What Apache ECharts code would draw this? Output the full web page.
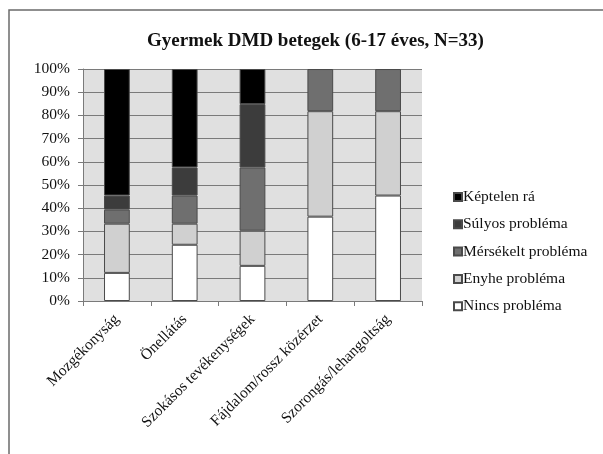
<!DOCTYPE html>
<html>
<head>
<meta charset="utf-8">
<script src="https://cdn.jsdelivr.net/npm/echarts@6/dist/echarts.min.js"></script>
<style>
  html, body { margin: 0; padding: 0; background: #ffffff; }
  #chart { width: 603px; height: 454px; }
</style>
</head>
<body>
<div id="chart"></div>
<script>
// EQ-5D-Y dimension outcomes, paediatric DMD patients (percent of N=33)
const categories = ['Mozgékonyság', 'Önellátás', 'Szokásos tevékenységek', 'Fájdalom/rossz közérzet', 'Szorongás/lehangoltság'];
const nincsProblema     = [12.12, 24.24, 15.15, 36.36, 45.45];
const enyheProblema     = [21.21,  9.09, 15.15, 45.45, 36.36];
const mersekeltProblema = [ 6.06, 12.12, 27.27, 18.18, 18.18];
const sulyosProblema    = [ 6.06, 12.12, 27.27, '-', '-'];
const kepteleRa         = [54.55, 42.42, 15.15, '-', '-'];
const yTicks = [0, 10, 20, 30, 40, 50, 60, 70, 80, 90, 100];

const serif = '"Liberation Serif", "Times New Roman", serif';

function makeSeries(name, data, color) {
  return {
    name: name,
    type: 'bar',
    stack: 'total',
    data: data,
    barWidth: '38%',
    itemStyle: { color: color, borderColor: '#4a4a4a', borderWidth: 1 }
  };
}

const chart = echarts.init(document.getElementById('chart'), null, { renderer: 'canvas' });
chart.setOption({
  animation: false,
  backgroundColor: '#ffffff',
  title: {
    text: 'Gyermek DMD betegek (6-17 éves, N=33)',
    left: 142,
    top: 27,
    textStyle: { fontFamily: serif, fontSize: 19, fontWeight: 'bold', color: '#111' }
  },
  graphic: [{
    type: 'rect',
    shape: { x: 9, y: 10, width: 800, height: 600 },
    style: { fill: 'none', stroke: '#6b6b6b', lineWidth: 1.5 },
    silent: true
  }],
  legend: {
    orient: 'vertical',
    left: 448,
    top: 184,
    itemWidth: 8,
    itemHeight: 8,
    itemGap: 11.3,
    icon: 'rect',
    data: ['Képtelen rá', 'Súlyos probléma', 'Mérsékelt probléma', 'Enyhe probléma', 'Nincs probléma'],
    textStyle: { fontFamily: serif, fontSize: 15.5, color: '#111', padding: [0, 0, 0, -4], lineHeight: 16 }
  },
  grid: { left: 83, right: 181, top: 69, bottom: 153, show: true, backgroundColor: '#e0e0e0', borderWidth: 0 },
  xAxis: {
    type: 'category',
    data: categories,
    axisLine: { show: true, lineStyle: { color: '#7a7a7a', width: 1 } },
    axisTick: { show: true, length: 5, alignWithLabel: false, lineStyle: { color: '#7a7a7a' } },
    axisLabel: { rotate: 45, margin: 16, fontFamily: serif, fontSize: 15.5, color: '#111', interval: 0 },
    splitLine: { show: false }
  },
  yAxis: {
    type: 'value',
    min: yTicks[0],
    max: yTicks[yTicks.length - 1],
    interval: 10,
    axisLine: { show: true, lineStyle: { color: '#7a7a7a', width: 1 } },
    axisTick: { show: true, length: 5, lineStyle: { color: '#7a7a7a' } },
    axisLabel: { formatter: '{value}%', margin: 13, fontFamily: serif, fontSize: 15.5, color: '#111' },
    splitLine: { show: true, lineStyle: { color: '#7a7a7a', width: 1 } }
  },
  series: [
    makeSeries('Nincs probléma', nincsProblema, '#ffffff'),
    makeSeries('Enyhe probléma', enyheProblema, '#d0d0d0'),
    makeSeries('Mérsékelt probléma', mersekeltProblema, '#6f6f6f'),
    makeSeries('Súlyos probléma', sulyosProblema, '#3c3c3c'),
    makeSeries('Képtelen rá', kepteleRa, '#000000')
  ]
});
</script>
</body>
</html>
